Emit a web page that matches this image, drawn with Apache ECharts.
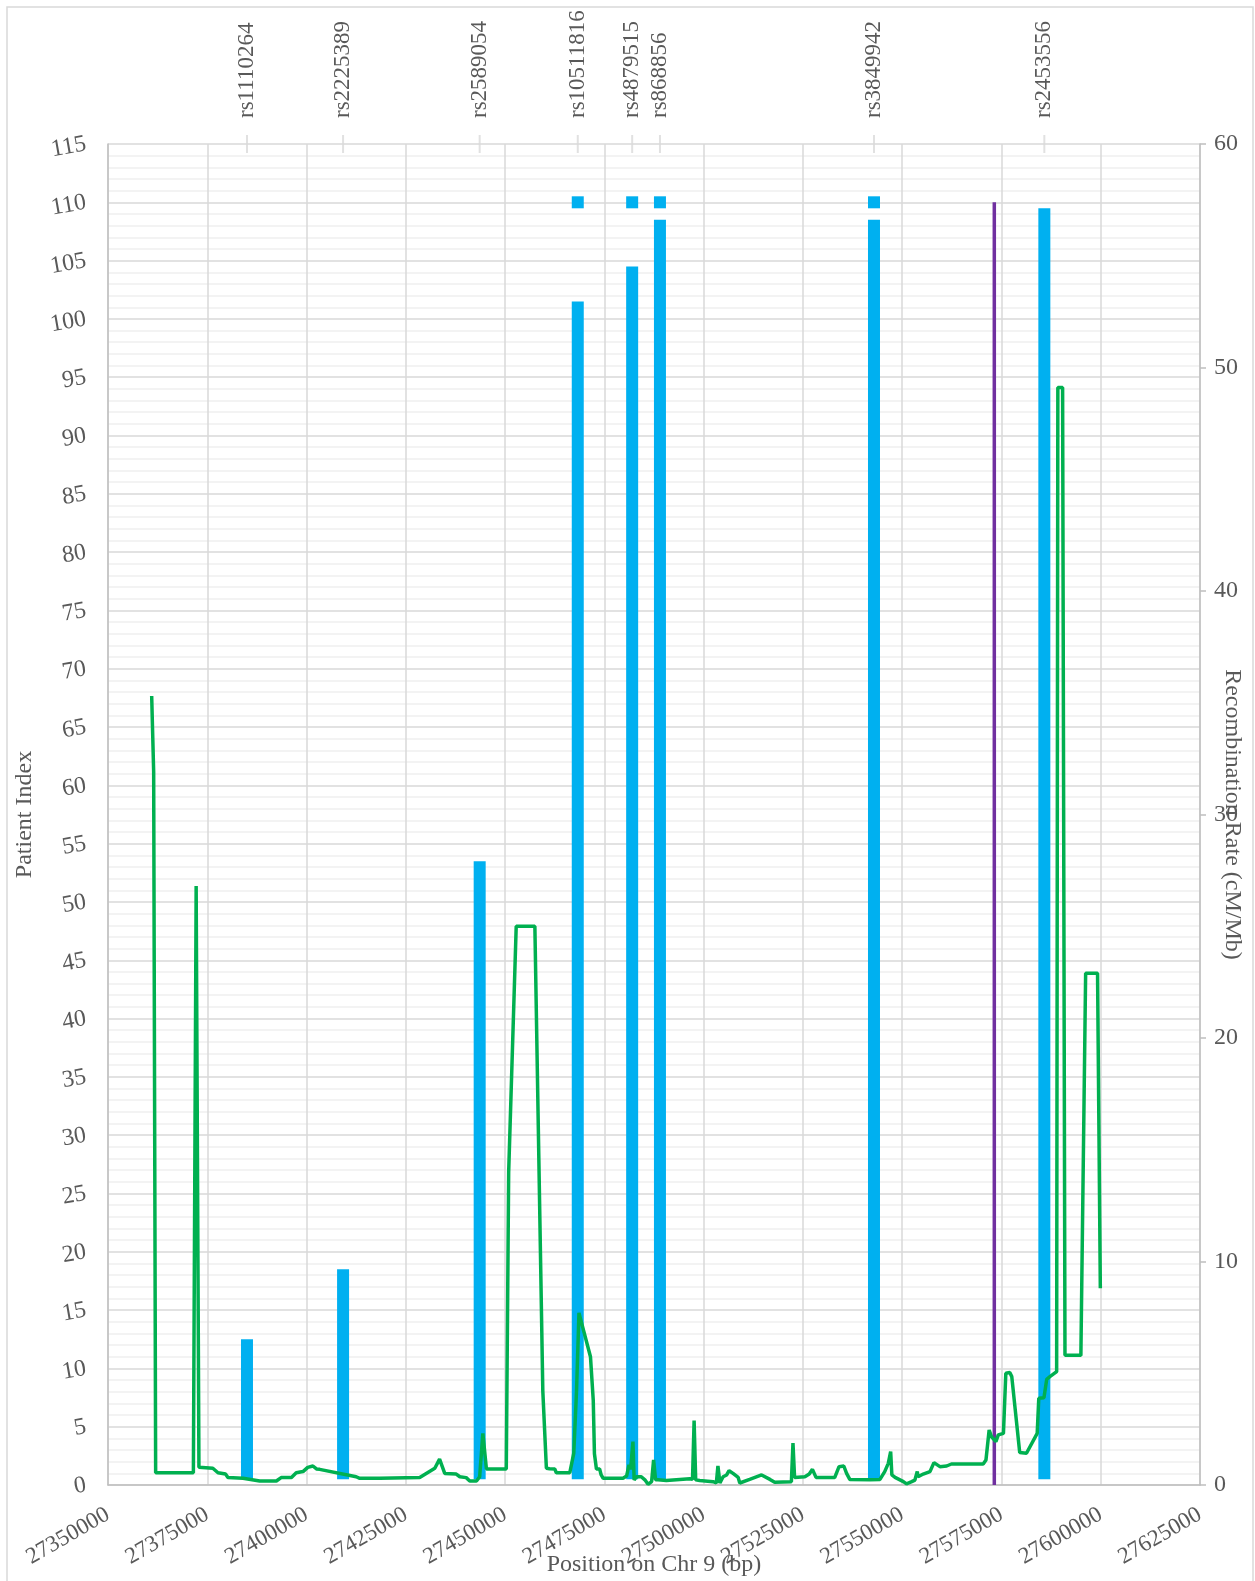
<!DOCTYPE html>
<html>
<head>
<meta charset="utf-8">
<script src="https://cdn.jsdelivr.net/npm/echarts@6/dist/echarts.min.js"></script>
<style>
html,body{margin:0;padding:0;background:#fff;}
#chart{width:1255px;height:1581px;}
</style>
</head>
<body>
<div id="chart"></div>
<script>
// ---- data ----
const snpNames = ['rs1110264','rs2225389','rs2589054','rs10511816','rs4879515','rs868856','rs3849942','rs2453556'];
const snpPos = [27385000, 27409200, 27443600, 27468300, 27482000, 27489000, 27542900, 27585800];
const patientIndex = [12.5, 18.5, 53.5, 101.5, 104.5, 108.5, 108.5, 109.5];
const barBase = 0.5;
const markerPos = [27468300, 27482000, 27489000, 27542900];
const markerValue = [110, 110, 110, 110];
const purplePos = 27573200;
const purpleRange = [0, 110];
const xTickMin = 27350000, xTickMax = 27625000, xTickStep = 25000;
const leftMax = 115, leftStep = 5, rightMax = 60, rightStep = 10;
const topTickValue = 115;

const recPos = [27361000,27361500,27362000,27371500,27372200,27372900,27376400,27377700,27379600,27380200,
27384000,27388200,27392400,27393600,27396200,27397400,27399100,27400300,27401600,27402500,
27403300,27412500,27413400,27418400,27428500,27432300,27433500,27434800,27437700,27438600,
27440200,27441100,27442800,27443600,27444400,27445300,27450300,27450900,27452800,27457500,
27459500,27460400,27461200,27462500,27462900,27466300,27467300,27468000,27468600,27471500,
27472200,27472500,27473000,27473800,27474200,27474700,27479700,27480600,27481200,27481600,
27482200,27482500,27483100,27484300,27485200,27486000,27486900,27487400,27487900,27488500,
27490600,27494000,27496500,27497200,27497600,27498000,27499000,27502400,27503200,27503600,
27504100,27504900,27505800,27506400,27507400,27508700,27509100,27511600,27514600,27516700,
27517900,27522100,27522500,27522900,27525500,27526600,27527400,27528300,27533000,27534100,
27535300,27536000,27536800,27541900,27544400,27545600,27546500,27547100,27547400,27548200,
27550300,27551100,27552400,27553200,27553800,27554000,27555300,27557000,27558000,27559500,
27561200,27562400,27570400,27571100,27571900,27572500,27573600,27574200,27575500,27576100,
27577100,27577600,27579600,27581300,27584000,27584400,27585700,27586400,27587200,27588900,
27589200,27590400,27591000,27595000,27596200,27599200,27599900];
const recRate = [35.3,31.9,0.55,0.55,26.8,0.79,0.75,0.55,0.49,0.34,
0.30,0.18,0.18,0.33,0.34,0.55,0.60,0.79,0.85,0.72,
0.70,0.37,0.30,0.30,0.34,0.75,1.16,0.52,0.49,0.37,
0.33,0.18,0.18,0.37,2.31,0.72,0.72,14.0,25.0,25.0,
4.2,0.75,0.73,0.72,0.55,0.55,1.43,4.25,7.7,5.74,
3.8,1.4,0.72,0.72,0.45,0.30,0.30,0.40,0.90,0.70,
1.94,0.23,0.37,0.37,0.23,0.03,0.15,1.12,0.23,0.23,
0.20,0.25,0.28,0.25,2.88,0.23,0.20,0.15,0.09,0.85,
0.09,0.37,0.45,0.64,0.52,0.34,0.09,0.25,0.45,0.25,
0.12,0.15,1.88,0.34,0.37,0.49,0.70,0.34,0.33,0.82,
0.85,0.52,0.25,0.23,0.25,0.60,0.97,1.50,0.45,0.34,
0.15,0.05,0.15,0.22,0.60,0.37,0.49,0.60,1.00,0.82,
0.85,0.94,0.94,1.12,2.46,2.16,1.94,2.24,2.31,5.00,
5.03,4.85,1.45,1.42,2.31,3.88,3.90,4.73,4.85,5.07,
49.1,49.1,5.8,5.8,22.9,22.9,8.8];

// ---- styles ----
const FONT = 'Liberation Serif';
const TXT = '#595959';
const chart = echarts.init(document.getElementById('chart'), null, {renderer:'canvas'});

const barData = snpPos.map((p,i)=>[p, barBase, patientIndex[i]]);
const markerData = markerPos.map((p,i)=>[p, markerValue[i]]);
const recData = recPos.map((p,i)=>[p, recRate[i]]);
const topTickData = snpPos.map(p=>[p, topTickValue]);

const option = {
  animation:false,
  backgroundColor:'#ffffff',
  textStyle:{fontFamily:FONT, color:TXT},
  graphic:[{type:'rect', shape:{x:7, y:7, width:1246, height:1590}, style:{fill:'none', stroke:'#D9D9D9', lineWidth:1.5}, z:-10}],
  grid:{left:108, right:55, top:144, bottom:96, containLabel:false, outerBoundsMode:'none'},
  xAxis:[{
    type:'value', position:'bottom', min:xTickMin, max:xTickMax, interval:xTickStep,
    axisLine:{show:true, lineStyle:{color:'#BFBFBF', width:1.5}},
    axisTick:{show:false},
    axisLabel:{rotate:30, fontSize:23, color:TXT, fontFamily:FONT, margin:28,
      formatter:function(v){ return String(Math.round(v)); }},
    splitLine:{show:true, lineStyle:{color:'#D9D9D9', width:1.5}},
    name:'Position on Chr 9 (bp)', nameLocation:'middle', nameGap:68, nameMoveOverlap:false,
    nameTextStyle:{fontSize:24, color:TXT, fontFamily:FONT}
  },{
    type:'value', position:'top', min:xTickMin, max:xTickMax,
    axisLine:{show:false},
    axisTick:{show:false},
    splitLine:{show:false},
    axisLabel:{show:true, customValues:snpPos, rotate:90, fontSize:23, color:TXT, fontFamily:FONT, margin:26,
      formatter:function(v){ const i = snpPos.indexOf(v); return i>=0 ? snpNames[i] : ''; }}
  }],
  yAxis:[{
    type:'value', min:0, max:leftMax, interval:leftStep, position:'left',
    axisLine:{show:true, lineStyle:{color:'#BFBFBF', width:1.5}},
    axisTick:{show:false},
    axisLabel:{fontSize:24, color:TXT, fontFamily:FONT, margin:22, rotate:10},
    splitLine:{show:true, lineStyle:{color:'#D9D9D9', width:1.5}},
    minorTick:{show:false, splitNumber:5},
    minorSplitLine:{show:true, lineStyle:{color:'#EFEFEF', width:1.5}},
    name:'Patient Index', nameLocation:'middle', nameGap:71, nameMoveOverlap:false,
    nameTextStyle:{fontSize:24, color:TXT, fontFamily:FONT}
  },{
    type:'value', min:0, max:rightMax, interval:rightStep, position:'right',
    axisLine:{show:true, lineStyle:{color:'#BFBFBF', width:1.5}},
    axisTick:{show:true, length:6, lineStyle:{color:'#BFBFBF', width:1.5}},
    axisLabel:{fontSize:24, color:TXT, fontFamily:FONT, margin:14},
    splitLine:{show:false},
    name:'Recombination Rate (cM/Mb)', nameLocation:'middle', nameGap:20, nameRotate:-90, nameMoveOverlap:false,
    nameTextStyle:{fontSize:24, color:TXT, fontFamily:FONT}
  }],
  series:[
    {
      type:'scatter', xAxisIndex:0, yAxisIndex:0, data:topTickData,
      symbol:'rect', symbolSize:[2,18], itemStyle:{color:'#D9D9D9'}, clip:false, silent:true, z:1
    },
    {
      type:'custom', xAxisIndex:0, yAxisIndex:0, data:barData,
      encode:{x:0, y:[1,2]}, z:2,
      renderItem:function(params, api){
        const x = api.value(0), lo = api.value(1), hi = api.value(2);
        const pTop = api.coord([x, hi]), pBot = api.coord([x, lo]);
        const w = 12;
        return {type:'rect', shape:{x:pTop[0]-w/2, y:pTop[1], width:w, height:pBot[1]-pTop[1]}, style:{fill:'#00B0F0'}};
      }
    },
    {
      type:'scatter', xAxisIndex:0, yAxisIndex:0, data:markerData,
      symbol:'rect', symbolSize:[12,12], itemStyle:{color:'#00B0F0', opacity:1}, z:3
    },
    {
      type:'line', xAxisIndex:0, yAxisIndex:0,
      data:[[purplePos, purpleRange[0]],[purplePos, purpleRange[1]]],
      showSymbol:false, symbol:'none', lineStyle:{color:'#7030A0', width:3.5}, z:4
    },
    {
      type:'line', xAxisIndex:0, yAxisIndex:1, data:recData,
      showSymbol:false, symbol:'none', lineStyle:{color:'#00B050', width:3.5}, z:5
    }
  ]
};
chart.setOption(option);
</script>
</body>
</html>
